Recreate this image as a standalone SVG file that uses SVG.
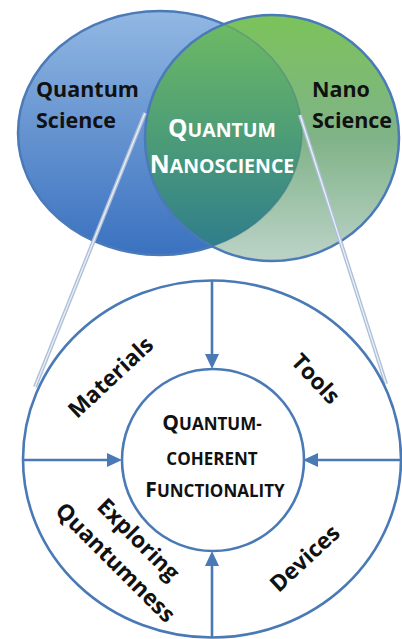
<svg xmlns="http://www.w3.org/2000/svg" width="402" height="639" viewBox="0 0 402 639">
<defs>
<style>
.lbl{font-family:"Open Sans","Liberation Sans",sans-serif;font-weight:700;fill:#111}
.ttl{font-family:"Open Sans","Liberation Sans",sans-serif;font-weight:700}
.rot{font-size:22.5px}
.ring{fill:none;stroke:#4a7ab5;stroke-width:2.6}
.conn{stroke:#4a7ab5;stroke-width:2.6;fill:none}
.zoomA{stroke:#aebfd8;stroke-width:4;fill:none}
.zoomB{stroke:#eaf0f7;stroke-width:1.3;fill:none}
</style>
<linearGradient id="gBlue" x1="0" y1="0" x2="0" y2="1">
<stop offset="0" stop-color="#92b8e3"/>
<stop offset="0.5" stop-color="#6593d0"/>
<stop offset="1" stop-color="#3a72c0"/>
</linearGradient>
<linearGradient id="gGreen" x1="0" y1="0" x2="0" y2="1">
<stop offset="0" stop-color="#7bc35a"/>
<stop offset="0.5" stop-color="#80b388"/>
<stop offset="1" stop-color="#bcd3c8"/>
</linearGradient>
<linearGradient id="gOver" x1="0" y1="0" x2="0" y2="1">
<stop offset="0" stop-color="#6fbc62"/>
<stop offset="0.5" stop-color="#4c9c78"/>
<stop offset="1" stop-color="#2c7a8e"/>
</linearGradient>
<clipPath id="cBlue"><ellipse cx="160" cy="133" rx="142" ry="122"/></clipPath>
<clipPath id="cGreen"><ellipse cx="272" cy="138" rx="127" ry="123"/></clipPath>
<marker id="arr" viewBox="0 0 15 14" refX="7" refY="7" markerWidth="15" markerHeight="14" markerUnits="userSpaceOnUse" orient="auto">
<path d="M0,0 L15,7 L0,14 z" fill="#4a7ab5"/>
</marker>
</defs>

<g id="quantum-science">
<ellipse cx="160" cy="133" rx="142" ry="122" fill="url(#gBlue)" stroke="#4a7ab8" stroke-width="2.5"/>
</g>
<g id="nano-science">
<ellipse cx="272" cy="138" rx="127" ry="123" fill="url(#gGreen)"/>
</g>
<g id="quantum-nanoscience">
<ellipse cx="272" cy="138" rx="127" ry="123" fill="url(#gOver)" clip-path="url(#cBlue)"/>
<ellipse cx="160" cy="133" rx="142" ry="122" fill="none" stroke="#3f6f8a" stroke-opacity="0.35" stroke-width="1.5" clip-path="url(#cGreen)"/>
<ellipse cx="272" cy="138" rx="127" ry="123" fill="none" stroke="#4a7ab8" stroke-width="2.5"/>
</g>

<g id="zoom-lines">
<line class="zoomA" x1="145" y1="113" x2="35" y2="387"/>
<line class="zoomB" x1="145" y1="113" x2="35" y2="387"/>
<line class="zoomA" x1="300" y1="115" x2="386" y2="384"/>
<line class="zoomB" x1="300" y1="115" x2="386" y2="384"/>
</g>

<g id="venn-labels">
<text class="lbl" font-size="21.5" font-weight="600" x="36" y="97">Quantum</text>
<text class="lbl" font-size="21.5" font-weight="600" x="36" y="128">Science</text>
<text class="lbl" font-size="21.5" font-weight="600" x="312" y="97">Nano</text>
<text class="lbl" font-size="21.5" font-weight="600" x="312" y="128">Science</text>
<text class="ttl" fill="#ffffff" text-anchor="middle" x="222" y="137"><tspan font-size="24.5">Q</tspan><tspan font-size="19.5">UANTUM</tspan></text>
<text class="ttl" fill="#ffffff" text-anchor="middle" x="222" y="173"><tspan font-size="24.5">N</tspan><tspan font-size="19.5">ANOSCIENCE</tspan></text>
</g>

<g id="outer-ring">
<ellipse class="ring" cx="212" cy="459" rx="189" ry="178.5"/>
</g>
<g id="center">
<circle class="ring" cx="213" cy="460" r="91"/>
<text class="lbl" text-anchor="middle" x="212" y="430"><tspan font-size="21">Q</tspan><tspan font-size="17">UANTUM-</tspan></text>
<text class="lbl" text-anchor="middle" x="212" y="465" font-size="17">COHERENT</text>
<text class="lbl" text-anchor="middle" x="215" y="497"><tspan font-size="21">F</tspan><tspan font-size="17">UNCTIONALITY</tspan></text>
</g>

<g id="connectors">
<line class="conn" x1="212" y1="280" x2="212" y2="361" marker-end="url(#arr)"/>
<line class="conn" x1="23" y1="460" x2="114" y2="460" marker-end="url(#arr)"/>
<line class="conn" x1="401" y1="460" x2="311" y2="460" marker-end="url(#arr)"/>
<line class="conn" x1="212" y1="637" x2="212" y2="559" marker-end="url(#arr)"/>
</g>

<g id="materials"><text class="lbl rot" text-anchor="middle" transform="translate(116,383) rotate(-43)">Materials</text></g>
<g id="tools"><text class="lbl rot" text-anchor="middle" transform="translate(310,384) rotate(47)">Tools</text></g>
<g id="devices"><text class="lbl rot" text-anchor="middle" transform="translate(310,564) rotate(-43)">Devices</text></g>
<g id="exploring"><text class="lbl rot" text-anchor="middle" transform="translate(133,545) rotate(45)">Exploring</text></g>
<g id="quantumness"><text class="lbl rot" text-anchor="middle" transform="translate(110,568) rotate(45)">Quantumness</text></g>
</svg>
